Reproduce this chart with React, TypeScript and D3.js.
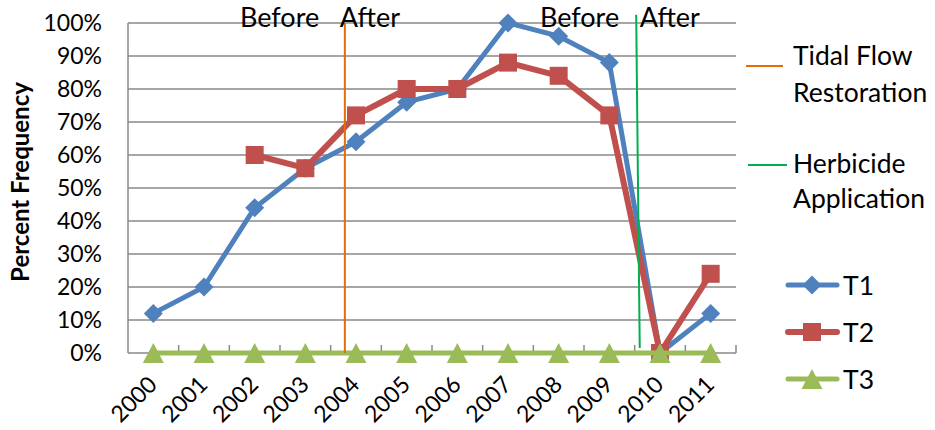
import React from 'react';
import * as d3 from 'd3';

const YEARS = ['2000','2001','2002','2003','2004','2005','2006','2007','2008','2009','2010','2011'];
const T1: (number | null)[] = [0.12, 0.20, 0.44, 0.56, 0.64, 0.76, 0.80, 1.00, 0.96, 0.88, 0.00, 0.12];
const T2: (number | null)[] = [null, null, 0.60, 0.56, 0.72, 0.80, 0.80, 0.88, 0.84, 0.72, 0.00, 0.24];
const T3: (number | null)[] = [0, 0, 0, 0, 0, 0, 0, 0, 0, 0, 0, 0];
const Y_TICKS = [0, 0.1, 0.2, 0.3, 0.4, 0.5, 0.6, 0.7, 0.8, 0.9, 1.0];
const TIDAL_LINE = [{ x: 3.78, y: 0 }, { x: 3.78, y: 1.0 }];
const HERB_LINE = [{ x: 9.60, y: 0.015 }, { x: 9.53, y: 1.025 }];
const ANNOTATIONS = [
  { text: 'Before', x: 1.71 },
  { text: 'After', x: 3.68 },
  { text: 'Before', x: 7.63 },
  { text: 'After', x: 9.6 },
];

const FONT = 'Lato, "Noto Sans", sans-serif';
const BLUE = '#4F81BD';
const RED = '#C0504D';
const GREEN = '#9BBB59';
const ORANGE = '#E46C0A';
const HGREEN = '#00B050';
const GRID = '#888888';

const L = 128, R = 736, T = 23, B = 353;

function Marker({ kind, x, y, color }: { kind: string; x: number; y: number; color: string }) {
  if (kind === 'diamond') {
    const s = 9.5;
    return <path d={`M${x},${y - s}L${x + s},${y}L${x},${y + s}L${x - s},${y}Z`} fill={color} />;
  }
  if (kind === 'square') {
    const s = 9;
    return <rect x={x - s} y={y - s} width={2 * s} height={2 * s} fill={color} />;
  }
  const w = 10.5, h = 10;
  return <path d={`M${x},${y - h}L${x + w},${y + h}L${x - w},${y + h}Z`} fill={color} />;
}

export default function App() {
  const x = d3.scaleLinear().domain([-0.5, 11.5]).range([L, R]);
  const y = d3.scaleLinear().domain([0, 1]).range([B, T]);
  const line = d3
    .line<number | null>()
    .defined((d) => d !== null)
    .x((_, i) => x(i))
    .y((d) => y(d as number));
  const vline = d3
    .line<{ x: number; y: number }>()
    .x((d) => x(d.x))
    .y((d) => y(d.y));

  const series = [
    { name: 'T1', data: T1, color: BLUE, kind: 'diamond', w: 5 },
    { name: 'T2', data: T2, color: RED, kind: 'square', w: 6 },
    { name: 'T3', data: T3, color: GREEN, kind: 'triangle', w: 5 },
  ];
  const bounds = d3.range(YEARS.length + 1).map((k) => k - 0.5);

  return (
    <svg width={935} height={430} style={{ position: 'absolute', left: 0, top: 0, background: '#fff' }} fontFamily={FONT}>
      <rect width={935} height={430} fill="#fff" />
      {Y_TICKS.map((t) => (
        <g key={t}>
          {t > 0 && <line x1={L} x2={R} y1={y(t)} y2={y(t)} stroke={GRID} strokeWidth={1.5} />}
          <text x={102} y={y(t)} dy="0.36em" textAnchor="end" fontSize={23} fill="#000">
            {d3.format('.0%')(t)}
          </text>
        </g>
      ))}
      <line x1={L} x2={L} y1={T} y2={B} stroke={GRID} strokeWidth={1.5} />
      <line x1={L} x2={R} y1={B} y2={B} stroke={GRID} strokeWidth={1.5} />
      {bounds.slice(1).map((b) => (
        <line key={b} x1={x(b)} x2={x(b)} y1={B} y2={B - 8} stroke={GRID} strokeWidth={1.5} />
      ))}
      {YEARS.map((yr, i) => (
        <text
          key={yr}
          transform={`translate(${x(i) + 5},${386}) rotate(-45)`}
          textAnchor="end"
          fontSize={23}
          fill="#000"
        >
          {yr}
        </text>
      ))}
      <text
        transform={`translate(29,182) rotate(-90)`}
        textAnchor="middle"
        fontSize={24}
        fontWeight="bold"
        fill="#000"
      >
        Percent Frequency
      </text>

      {series.map((s) => (
        <g key={s.name}>
          <path d={line(s.data) || ''} fill="none" stroke={s.color} strokeWidth={s.w} strokeLinejoin="round" />
          {s.data.map((d, i) =>
            d === null ? null : <Marker key={i} kind={s.kind} x={x(i)} y={y(d)} color={s.color} />
          )}
        </g>
      ))}

      <path d={vline(TIDAL_LINE) || ''} stroke={ORANGE} strokeWidth={2} fill="none" />
      <path d={vline(HERB_LINE) || ''} stroke={HGREEN} strokeWidth={2} fill="none" />

      {ANNOTATIONS.map((a, i) => (
        <text key={i} x={x(a.x)} y={27} fontSize={27} fill="#000">
          {a.text}
        </text>
      ))}

      {/* legend */}
      <line x1={746} x2={783} y1={66} y2={66} stroke={ORANGE} strokeWidth={2} />
      <text x={793} y={65} fontSize={26.5} fill="#000">Tidal Flow</text>
      <text x={793} y={102} fontSize={26.5} fill="#000">Restoration</text>
      <line x1={748} x2={787} y1={165} y2={165} stroke={HGREEN} strokeWidth={2} />
      <text x={793} y={173} fontSize={26.5} fill="#000">Herbicide</text>
      <text x={793} y={208} fontSize={26.5} fill="#000">Application</text>

      {series.map((s, k) => {
        const ly = 285 + k * 47;
        return (
          <g key={s.name}>
            <line x1={788} x2={837} y1={ly} y2={ly} stroke={s.color} strokeWidth={s.w} strokeLinecap="round" />
            <Marker kind={s.kind} x={812} y={ly} color={s.color} />
            <text x={843} y={ly} dy="0.36em" fontSize={26.5} fill="#000">{s.name}</text>
          </g>
        );
      })}
    </svg>
  );
}
